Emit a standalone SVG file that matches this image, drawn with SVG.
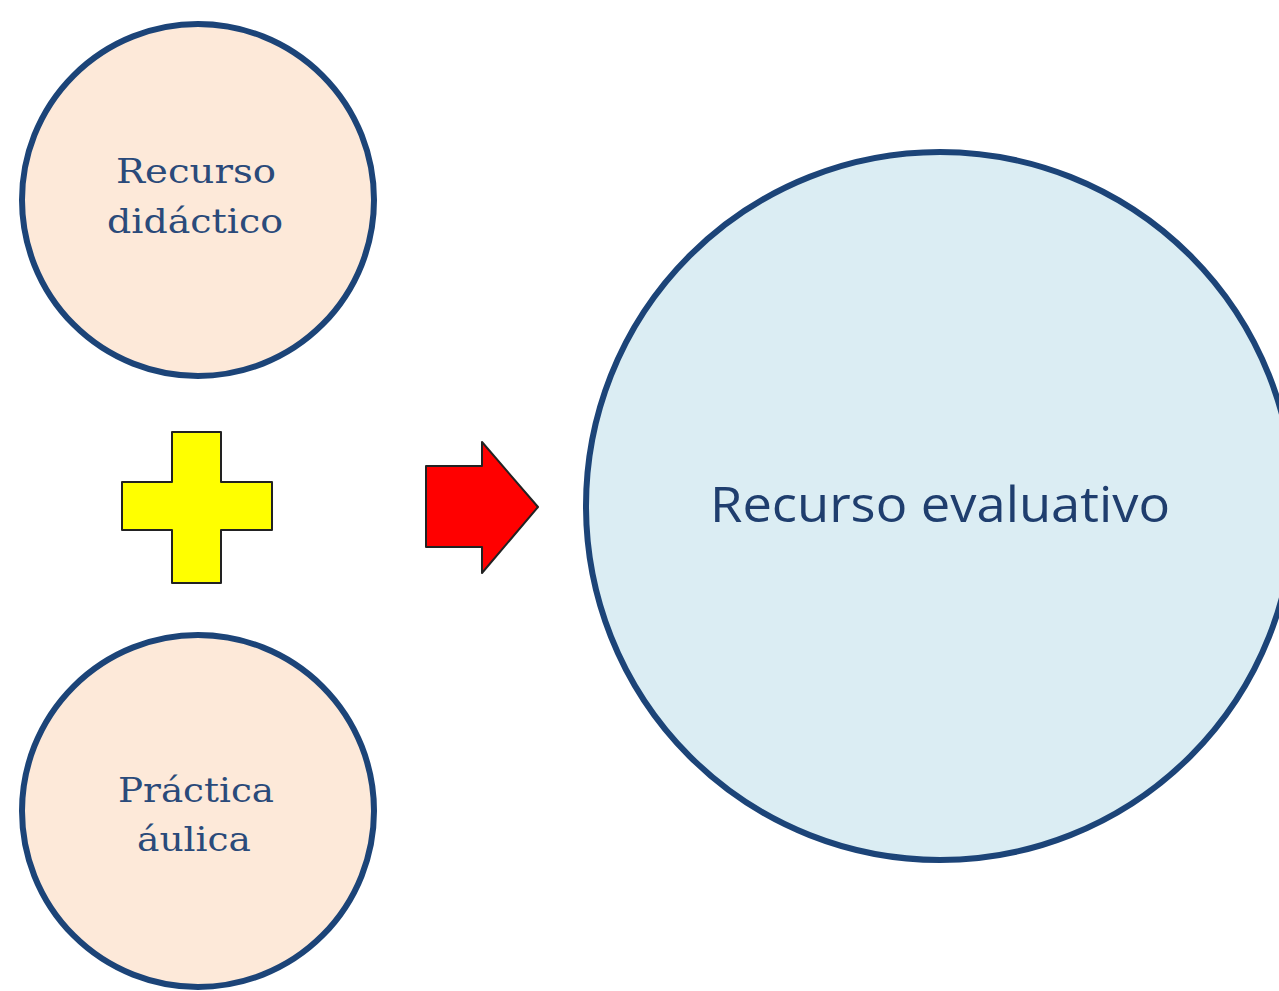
<svg xmlns="http://www.w3.org/2000/svg" width="1279" height="991" viewBox="0 0 1279 991">
<style>
.node{stroke:#1c4478;stroke-width:6}
.peach{fill:#fde9d9}
.blue{fill:#dbedf3}
.serif{font-family:"DejaVu Serif","Liberation Serif",serif;font-size:34px;fill:#2a4a7a;text-anchor:middle}
.sans{font-family:"Open Sans","Liberation Sans",sans-serif;font-size:50px;fill:#1f3e6e;text-anchor:middle}
.sym{stroke:#222;stroke-width:2;stroke-linejoin:round}
</style>
<rect width="1279" height="991" fill="#ffffff"/>
<g id="recurso-didactico">
<circle class="node peach" cx="198" cy="200" r="176"/>
<text class="serif" x="196" y="183" textLength="160" lengthAdjust="spacingAndGlyphs">Recurso</text>
<text class="serif" x="195" y="233" textLength="176" lengthAdjust="spacingAndGlyphs">didáctico</text>
</g>
<g id="practica-aulica">
<circle class="node peach" cx="198" cy="811" r="176"/>
<text class="serif" x="196" y="802" textLength="156" lengthAdjust="spacingAndGlyphs">Práctica</text>
<text class="serif" x="194" y="851" textLength="114" lengthAdjust="spacingAndGlyphs">áulica</text>
</g>
<g id="recurso-evaluativo">
<circle class="node blue" cx="940" cy="506" r="354"/>
<text class="sans" x="940" y="522" textLength="460" lengthAdjust="spacingAndGlyphs">Recurso evaluativo</text>
</g>
<g id="connectors">
<polygon id="plus" class="sym" fill="#ffff00" points="172,432 221,432 221,482 272,482 272,530 221,530 221,583 172,583 172,530 122,530 122,482 172,482"/>
<polygon id="arrow" class="sym" fill="#ff0000" points="426,466 482,466 482,442 538,507 482,573 482,547 426,547"/>
</g>
</svg>
